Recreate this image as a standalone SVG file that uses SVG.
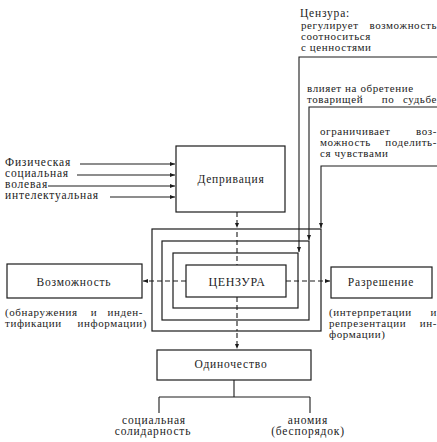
<svg xmlns="http://www.w3.org/2000/svg" width="437" height="442" viewBox="0 0 437 442">
<style>
text{font-family:"Liberation Serif","Times New Roman",serif;font-size:11.5px;fill:#1c1c1c;letter-spacing:0.8px}
.c{text-anchor:middle}
.e{text-anchor:end}
.s{font-size:11px;letter-spacing:0.6px}
.big{font-size:12px;letter-spacing:0.6px}
.box{fill:none;stroke:#1c1c1c;stroke-width:1.2}
.ln{fill:none;stroke:#1c1c1c;stroke-width:1.1}
.ar{marker-end:url(#ah)}
.da{stroke-dasharray:5 3}
</style>
<defs>
<marker id="ah" viewBox="0 0 6 6" refX="6" refY="3" markerWidth="5" markerHeight="5" markerUnits="userSpaceOnUse" orient="auto">
<path d="M0,0.6 L6,3 L0,5.4 z" fill="#1c1c1c"/>
</marker>
</defs>
<rect width="437" height="442" fill="#ffffff"/>

<g id="deprivation">
<rect class="box" x="176" y="146" width="109" height="66"/>
<text class="c" x="231" y="183">Депривация</text>
</g>

<g id="inputs">
<text x="5" y="166">Физическая</text>
<text x="5" y="177">социальная</text>
<text x="5" y="188">волевая</text>
<text x="5" y="199">интелектуальная</text>
</g>

<g id="censorship">
<rect class="box" x="152" y="229" width="169" height="102"/>
<rect class="box" x="162" y="241" width="147" height="79"/>
<rect class="box" x="173" y="253" width="125" height="55"/>
<rect class="box" x="186" y="265" width="100" height="32"/>
<text class="c big" x="237" y="286">ЦЕНЗУРА</text>
</g>

<g id="opportunity">
<rect class="box" x="7" y="264" width="135" height="34"/>
<text class="c" x="74" y="286">Возможность</text>
<text class="s" x="5" y="316">(обнаружения</text>
<text class="c s" x="94" y="316">и</text>
<text class="e s" x="143" y="316">инден-</text>
<text class="s" x="5" y="327">тификации</text>
<text class="e s" x="147" y="327">информации)</text>
</g>

<g id="resolution">
<rect class="box" x="331" y="267" width="101" height="31"/>
<text class="c" x="381" y="286">Разрешение</text>
<text class="s" x="329" y="316">(интерпретации</text>
<text class="e s" x="437" y="316">и</text>
<text class="s" x="329" y="327">репрезентации</text>
<text class="e s" x="437" y="327">ин-</text>
<text class="s" x="329" y="338">формации)</text>
</g>

<g id="loneliness">
<rect class="box" x="157" y="350" width="154" height="30"/>
<text class="c" x="231" y="368">Одиночество</text>
</g>

<g id="outcomes">
<text class="c" x="154" y="424">социальная</text>
<text class="c" x="153" y="435">солидарность</text>
<text class="c" x="308" y="424">аномия</text>
<text class="c" x="308" y="435">(беспорядок)</text>
</g>

<g id="note-values">
<text x="300" y="17">Цензура:</text>
<text class="s" x="301" y="29">регулирует</text>
<text class="e s" x="437" y="29">возможность</text>
<text class="s" x="301" y="40">соотноситься</text>
<text class="s" x="301" y="51">с ценностями</text>
</g>

<g id="note-fate">
<text class="s" x="307" y="92">влияет на обретение</text>
<text class="s" x="307" y="103">товарищей</text>
<text class="c s" x="388" y="103">по</text>
<text class="e s" x="437" y="103">судьбе</text>
</g>

<g id="note-feelings">
<text class="s" x="320" y="135">ограничивает</text>
<text class="e s" x="437" y="135">воз-</text>
<text class="s" x="320" y="146">можность</text>
<text class="e s" x="437" y="146">поделить-</text>
<text class="s" x="320" y="157">ся чувствами</text>
</g>

<g id="connectors">
<line class="ln ar" x1="80" y1="164" x2="175" y2="164"/>
<line class="ln ar" x1="77" y1="175" x2="175" y2="175"/>
<line class="ln ar" x1="48" y1="186" x2="175" y2="186"/>
<line class="ln ar" x1="110" y1="197" x2="175" y2="197"/>

<path class="ln ar" d="M437,57 H299 V252"/>
<path class="ln ar" d="M437,107 H309 V240"/>
<path class="ln ar" d="M437,166 H321 V228"/>

<line class="ln da ar" x1="237" y1="212" x2="237" y2="228"/>
<line class="ln da" x1="237" y1="232" x2="237" y2="265"/>
<line class="ln da" x1="237" y1="297" x2="237" y2="331"/>
<line class="ln da ar" x1="237" y1="333" x2="237" y2="349"/>

<line class="ln da ar" x1="186" y1="281" x2="143" y2="281"/>
<line class="ln da ar" x1="286" y1="281" x2="330" y2="281"/>

<path class="ln" d="M234,380 V397 M159,397 H310 M159,397 V413 M310,397 V413"/>
</g>
</svg>
